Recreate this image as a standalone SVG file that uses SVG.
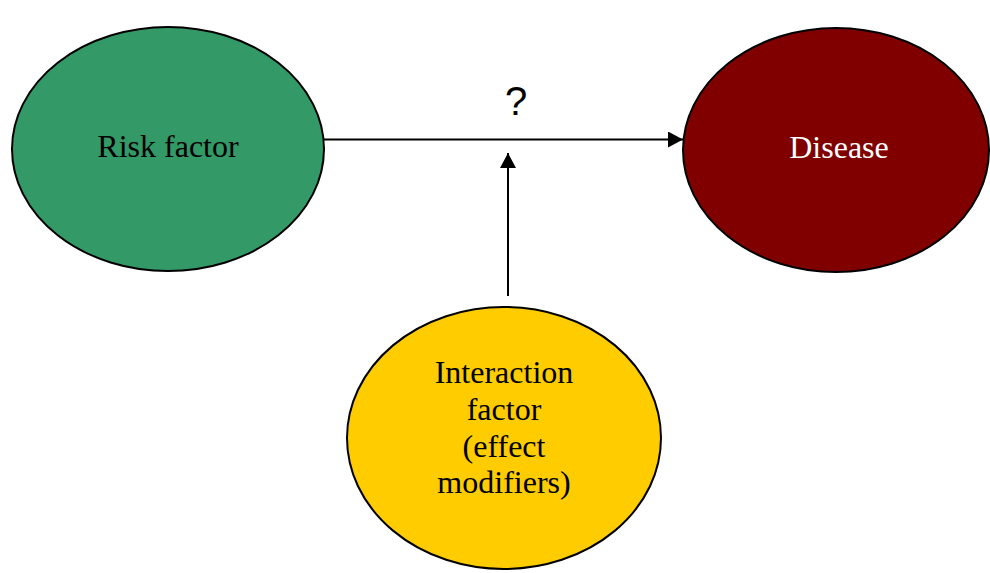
<svg xmlns="http://www.w3.org/2000/svg" width="990" height="573" viewBox="0 0 990 573">
<style>
.node{stroke:#000;stroke-width:2}
.lbl{font-family:"Liberation Serif","Times New Roman",serif;font-size:32px;text-anchor:middle}
.conn{stroke:#000;stroke-width:2;fill:none}
</style>
<defs>
<marker id="ah" markerWidth="15" markerHeight="16" refX="15" refY="8" orient="auto" markerUnits="userSpaceOnUse">
<path d="M0,0 L15,8 L0,16 Z" fill="#000"/>
</marker>
</defs>
<rect width="990" height="573" fill="#fff"/>
<g id="risk">
<ellipse class="node" cx="168" cy="149" rx="156" ry="122" fill="#339966"/>
<text class="lbl" x="168" y="157" fill="#000">Risk factor</text>
</g>
<g id="disease">
<ellipse class="node" cx="836" cy="150" rx="153" ry="122" fill="#800000"/>
<text class="lbl" x="839" y="158" fill="#fff">Disease</text>
</g>
<g id="interaction">
<ellipse class="node" cx="504" cy="438" rx="157" ry="131" fill="#FFCC00"/>
<text class="lbl" fill="#000"><tspan x="504" y="383">Interaction</tspan><tspan x="504" y="420">factor</tspan><tspan x="504" y="457">(effect</tspan><tspan x="504" y="493">modifiers)</tspan></text>
</g>
<g id="connectors">
<line class="conn" x1="324" y1="139.5" x2="683" y2="139.5" marker-end="url(#ah)"/>
<line class="conn" x1="508" y1="296" x2="508" y2="153" marker-end="url(#ah)"/>
<text x="516" y="115" font-family="Liberation Sans,Arial,sans-serif" font-size="40" text-anchor="middle" fill="#000">?</text>
</g>
</svg>
